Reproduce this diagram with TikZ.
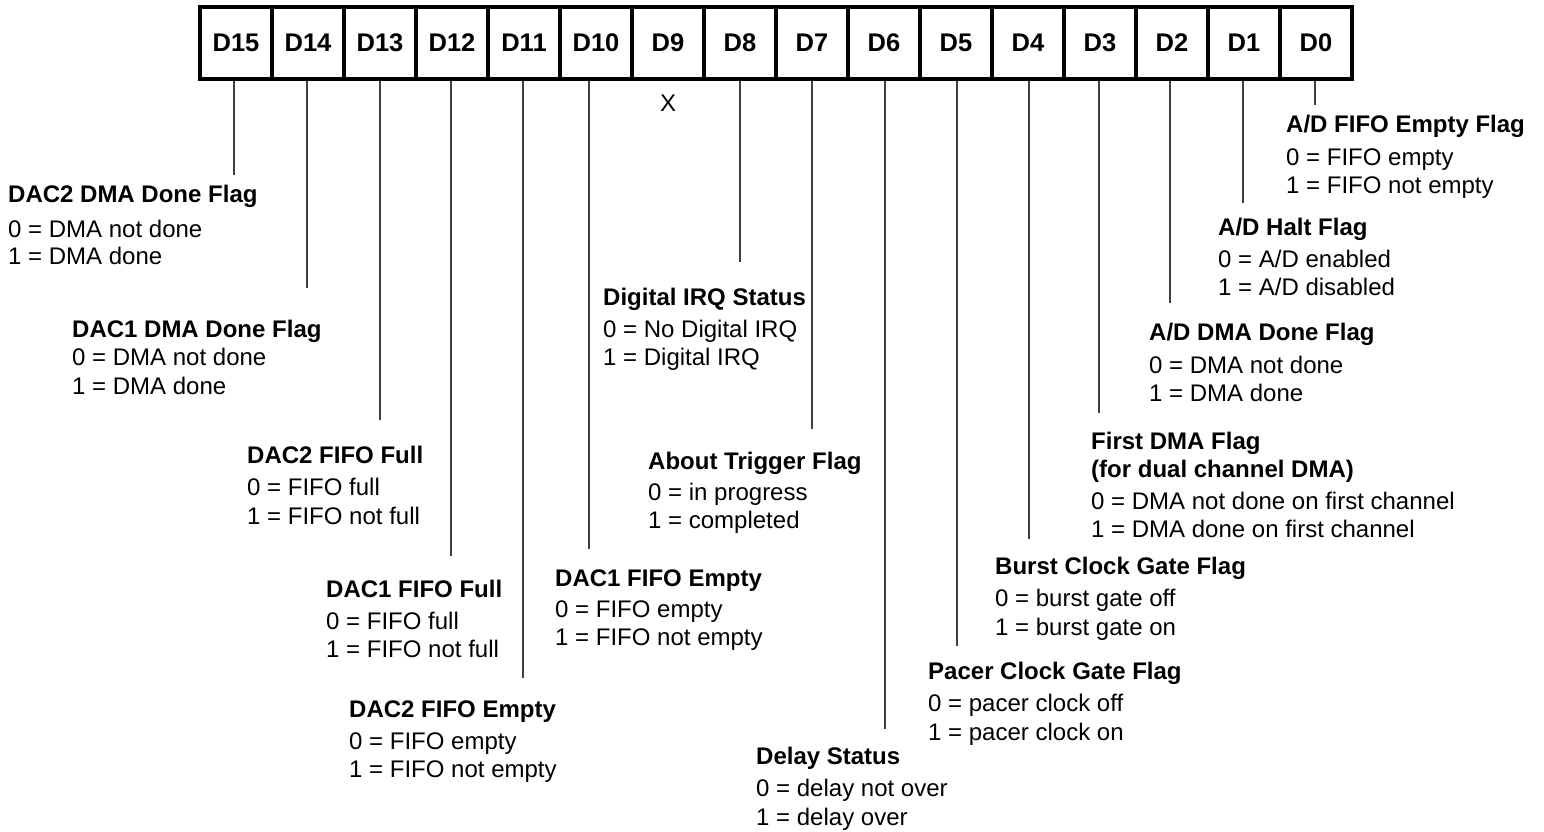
\documentclass[tikz,border=0pt]{standalone}
\usepackage{fontspec}
\setmainfont{Liberation Sans}
\tikzset{
  cell/.style={draw, line width=3.5pt, minimum width=72pt, minimum height=72pt, inner sep=0pt, font=\fontsize{25.5}{30}\selectfont\bfseries},
  leader/.style={line width=1.4pt, draw=black!75},
  ttl/.style={anchor=base west, inner sep=0pt, font=\fontsize{24}{28}\selectfont\bfseries},
  val/.style={anchor=base west, inner sep=0pt, font=\fontsize{24}{28}\selectfont},
}
\newcommand\bitdesc[8]{%
  \node[ttl] (#1t) at (#2,#3) {#6};
  \node[val] (#1a) at (#2,#4) {#7};
  \node[val] (#1b) at (#2,#5) {#8};
}
\begin{document}
\begin{tikzpicture}[x=1pt,y=-1pt]
\useasboundingbox (0,0) rectangle (1544,831);
% register cells
\foreach \i in {0,...,15}{
  \node[cell] (d\i) at ({1316-72*\i},43) {D\i};
}
\node[val, anchor=base] (x9) at (668,111) {X};
% leader end points
\coordinate (e15) at (234,175);
\coordinate (e14) at (307,288);
\coordinate (e13) at (380,420);
\coordinate (e12) at (451,556);
\coordinate (e11) at (523,678);
\coordinate (e10) at (589,549);
\coordinate (e8) at (740,262);
\coordinate (e7) at (812,429);
\coordinate (e6) at (885,729);
\coordinate (e5) at (957,646);
\coordinate (e4) at (1029,539);
\coordinate (e3) at (1099,413);
\coordinate (e2) at (1170,303);
\coordinate (e1) at (1243,203);
\coordinate (e0) at (1315,105);
\foreach \i in {15,14,13,12,11,10,8,7,6,5,4,3,2,1,0}{
  \draw[leader] (d\i.south -| e\i) -- (e\i);
}
% descriptions
\bitdesc{b15}{8}{202}{237}{264}{DAC2 DMA Done Flag}{0 = DMA not done}{1 = DMA done}
\bitdesc{b14}{72}{337}{365}{394}{DAC1 DMA Done Flag}{0 = DMA not done}{1 = DMA done}
\bitdesc{b13}{247}{463}{495}{524}{DAC2 FIFO Full}{0 = FIFO full}{1 = FIFO not full}
\bitdesc{b12}{326}{597}{629}{657}{DAC1 FIFO Full}{0 = FIFO full}{1 = FIFO not full}
\bitdesc{b11}{349}{717}{749}{777}{DAC2 FIFO Empty}{0 = FIFO empty}{1 = FIFO not empty}
\bitdesc{b10}{555}{586}{617}{645}{DAC1 FIFO Empty}{0 = FIFO empty}{1 = FIFO not empty}
\bitdesc{b8}{603}{305}{337}{365}{Digital IRQ Status}{0 = No Digital IRQ}{1 = Digital IRQ}
\bitdesc{b7}{648}{469}{500}{528}{About Trigger Flag}{0 = in progress}{1 = completed}
\bitdesc{b6}{756}{764}{796}{825}{Delay Status}{0 = delay not over}{1 = delay over}
\bitdesc{b5}{928}{679}{711}{740}{Pacer Clock Gate Flag}{0 = pacer clock off}{1 = pacer clock on}
\bitdesc{b4}{995}{574}{606}{635}{Burst Clock Gate Flag}{0 = burst gate off}{1 = burst gate on}
\node[ttl] (b3s) at (1091,477) {(for dual channel DMA)};
\bitdesc{b3}{1091}{449}{509}{537}{First DMA Flag}{0 = DMA not done on first channel}{1 = DMA done on first channel}
\bitdesc{b2}{1149}{340}{373}{401}{A/D DMA Done Flag}{0 = DMA not done}{1 = DMA done}
\bitdesc{b1}{1218}{235}{267}{295}{A/D Halt Flag}{0 = A/D enabled}{1 = A/D disabled}
\bitdesc{b0}{1286}{132}{165}{193}{A/D FIFO Empty Flag}{0 = FIFO empty}{1 = FIFO not empty}
\end{tikzpicture}
\end{document}
